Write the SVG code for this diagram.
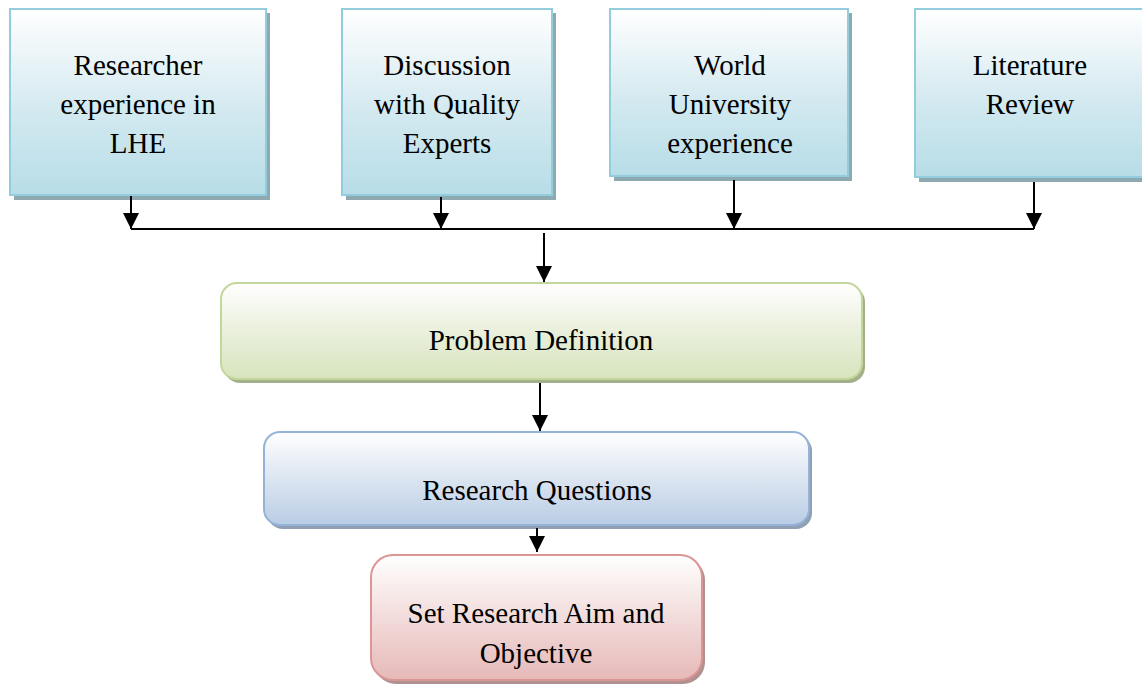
<svg xmlns="http://www.w3.org/2000/svg" width="1142" height="684" viewBox="0 0 1142 684">
  <defs>
    <linearGradient id="gAqua" x1="0" y1="0" x2="0" y2="1">
      <stop offset="0" stop-color="#ffffff"/>
      <stop offset="0.55" stop-color="#d3e9f0"/>
      <stop offset="1" stop-color="#b7dde7"/>
    </linearGradient>
    <linearGradient id="gGreen" x1="0" y1="0" x2="0" y2="1">
      <stop offset="0" stop-color="#ffffff"/>
      <stop offset="0.5" stop-color="#eaf0dc"/>
      <stop offset="1" stop-color="#d7e4bd"/>
    </linearGradient>
    <linearGradient id="gBlue" x1="0" y1="0" x2="0" y2="1">
      <stop offset="0" stop-color="#ffffff"/>
      <stop offset="0.5" stop-color="#dce5f1"/>
      <stop offset="1" stop-color="#b9cde5"/>
    </linearGradient>
    <linearGradient id="gRed" x1="0" y1="0" x2="0" y2="1">
      <stop offset="0" stop-color="#ffffff"/>
      <stop offset="0.5" stop-color="#f2dcdb"/>
      <stop offset="1" stop-color="#e6b9b8"/>
    </linearGradient>
    <marker id="arrow" viewBox="0 0 10 10" refX="10" refY="5" markerWidth="16" markerHeight="16" markerUnits="userSpaceOnUse" orient="auto">
      <path d="M0,0 L10,5 L0,10 z" fill="#000"/>
    </marker>
  </defs>
  <style>
    .txt { font-family: "Liberation Serif", "Times New Roman", serif; font-size: 29px; fill: #000; text-anchor: middle; }
    .aqua { fill: url(#gAqua); stroke: #93cddd; stroke-width: 2; }
    .aquaSh { fill: #8fa9b0; }
    .green { fill: url(#gGreen); stroke: #c3d69b; stroke-width: 2; }
    .greenSh { fill: #a3b08c; }
    .blue { fill: url(#gBlue); stroke: #95b3d7; stroke-width: 2; }
    .blueSh { fill: #8f9fb4; }
    .red { fill: url(#gRed); stroke: #d99694; stroke-width: 2; }
    .redSh { fill: #b09090; }
    .conn { stroke: #000; stroke-width: 2; fill: none; }
  </style>

  <g id="researcher-experience">
    <rect class="aquaSh" x="14" y="13" width="256" height="187"/>
    <rect class="aqua" x="10" y="9" width="256" height="186"/>
    <text class="txt" x="138" y="75">Researcher</text>
    <text class="txt" x="138" y="114">experience in</text>
    <text class="txt" x="138" y="153">LHE</text>
  </g>

  <g id="quality-experts">
    <rect class="aquaSh" x="346" y="13" width="210" height="187"/>
    <rect class="aqua" x="342" y="9" width="210" height="186"/>
    <text class="txt" x="447" y="75">Discussion</text>
    <text class="txt" x="447" y="114">with Quality</text>
    <text class="txt" x="447" y="153">Experts</text>
  </g>

  <g id="world-university">
    <rect class="aquaSh" x="614" y="13" width="238" height="168"/>
    <rect class="aqua" x="610" y="9" width="238" height="167"/>
    <text class="txt" x="730" y="75">World</text>
    <text class="txt" x="730" y="114">University</text>
    <text class="txt" x="730" y="153">experience</text>
  </g>

  <g id="literature-review">
    <rect class="aquaSh" x="919" y="13" width="240" height="169"/>
    <rect class="aqua" x="915" y="9" width="240" height="168"/>
    <text class="txt" x="1030" y="75">Literature</text>
    <text class="txt" x="1030" y="114">Review</text>
  </g>

  <g id="problem-definition">
    <rect class="greenSh" x="224" y="286" width="641" height="97" rx="16"/>
    <rect class="green" x="221" y="283" width="641" height="96" rx="16"/>
    <text class="txt" x="541" y="350">Problem Definition</text>
  </g>

  <g id="research-questions">
    <rect class="blueSh" x="267" y="435" width="545" height="94" rx="16"/>
    <rect class="blue" x="264" y="432" width="545" height="93" rx="16"/>
    <text class="txt" x="537" y="500">Research Questions</text>
  </g>

  <g id="aim-objective">
    <rect class="redSh" x="374" y="558" width="331" height="126" rx="22"/>
    <rect class="red" x="371" y="555" width="331" height="125" rx="22"/>
    <text class="txt" x="536" y="623">Set Research Aim and</text>
    <text class="txt" x="536" y="663">Objective</text>
  </g>

  <g id="connectors">
    <line class="conn" x1="131" y1="196" x2="131" y2="229" marker-end="url(#arrow)"/>
    <line class="conn" x1="441" y1="197" x2="441" y2="229" marker-end="url(#arrow)"/>
    <line class="conn" x1="734" y1="180" x2="734" y2="229" marker-end="url(#arrow)"/>
    <line class="conn" x1="1034" y1="182" x2="1034" y2="229" marker-end="url(#arrow)"/>
    <line class="conn" x1="131" y1="229" x2="1034" y2="229"/>
    <line class="conn" x1="544" y1="233" x2="544" y2="282" marker-end="url(#arrow)"/>
    <line class="conn" x1="540" y1="383" x2="540" y2="431" marker-end="url(#arrow)"/>
    <line class="conn" x1="537" y1="528" x2="537" y2="552" marker-end="url(#arrow)"/>
  </g>
</svg>
